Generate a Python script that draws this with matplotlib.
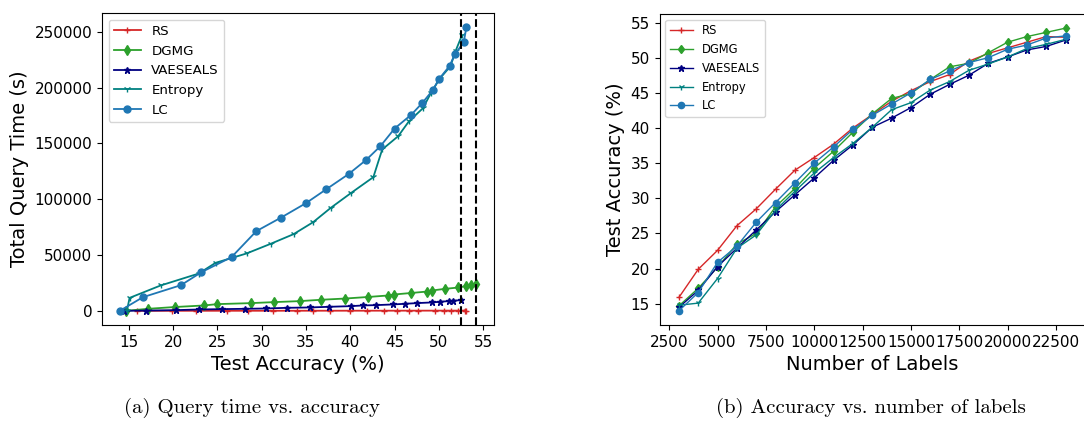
import matplotlib
matplotlib.use("Agg")
import matplotlib.pyplot as plt

# number of labelled samples per round
labels = [3000, 4000, 5000, 6000, 7000, 8000, 9000, 10000, 11000, 12000, 13000,
          14000, 15000, 16000, 17000, 18000, 19000, 20000, 21000, 22000, 23000]

# test accuracy (%) per method
acc_rs = [15.9, 19.9, 22.6, 26.1, 28.5, 31.3, 34.0, 35.8, 37.7, 40.0, 41.9,
          43.8, 45.3, 46.6, 47.6, 49.5, 50.6, 51.4, 52.2, 53.0, 52.9]
acc_dgmg = [14.7, 17.2, 20.2, 23.5, 25.0, 28.8, 31.4, 34.3, 36.7, 39.4, 42.0,
            44.2, 44.9, 46.9, 48.7, 49.2, 50.7, 52.2, 53.0, 53.6, 54.2]
acc_vae = [14.5, 16.9, 20.3, 22.9, 25.5, 28.1, 30.5, 32.9, 35.4, 37.6, 40.1,
           41.4, 42.9, 44.8, 46.2, 47.5, 49.2, 50.1, 51.1, 51.6, 52.5]
acc_ent = [14.8, 15.1, 18.6, 22.9, 24.8, 28.3, 31.0, 33.6, 35.8, 37.8, 40.1,
           42.6, 43.6, 45.4, 46.6, 48.2, 49.1, 50.1, 51.3, 51.9, 52.6]
acc_lc = [14.0, 16.6, 20.9, 23.2, 26.6, 29.4, 32.2, 35.0, 37.3, 39.8, 41.8,
          43.4, 45.0, 46.9, 48.1, 49.3, 50.0, 51.2, 51.8, 52.8, 53.1]

# cumulative query time (s) per method
time_rs = [0, 10, 20, 30, 40, 50, 60, 70, 80, 90, 100,
           110, 120, 130, 140, 150, 160, 170, 180, 190, 200]
time_dgmg = [0, 1800, 3400, 4800, 6000, 6900, 7800, 8700, 9900, 11000, 12400,
             13700, 14600, 16000, 17300, 18200, 19700, 20900, 22100, 23000, 24200]
time_vae = [0, 200, 600, 1200, 1500, 1800, 2100, 2700, 3000, 3600, 4200,
            4800, 5100, 5700, 6300, 6900, 7500, 8100, 8700, 9000, 9600]
time_ent = [0, 11600, 22700, 33400, 43000, 51400, 60000, 68700, 79400, 92300, 105700,
            119800, 144600, 156500, 169700, 181600, 195300, 208200, 219200, 233300, 247000]
time_lc = [0, 12200, 23000, 34600, 48100, 71400, 83600, 96500, 109000, 122500, 135300,
           147600, 163400, 175900, 186100, 197700, 207600, 219500, 230000, 240700, 254200]

# dashed reference accuracies
ref_acc = [52.5, 54.2]

acc_ticks = [15, 20, 25, 30, 35, 40, 45, 50, 55]
label_ticks = [2500, 5000, 7500, 10000, 12500, 15000, 17500, 20000, 22500]

series = [
    ("RS", acc_rs, time_rs, "#d62728", "+", 5),
    ("DGMG", acc_dgmg, time_dgmg, "#2ca02c", "d", 5),
    ("VAESEALS", acc_vae, time_vae, "navy", "*", 5),
    ("Entropy", acc_ent, time_ent, "teal", "1", 5),
    ("LC", acc_lc, time_lc, "#1f77b4", "o", 5),
]

fig = plt.figure(figsize=(10.84, 4.24), dpi=100)
ax1 = fig.add_axes([0.0941, 0.2335, 0.3616, 0.7358])
ax2 = fig.add_axes([0.6084, 0.2335, 0.3925, 0.7335])

# (a) query time vs accuracy
for name, acc, t, color, marker, ms in series:
    ax1.plot(acc, t, color=color, marker=marker, markersize=ms, linewidth=1.3,
             label=name)
for a in ref_acc:
    ax1.axvline(a, color="black", linestyle="--", linewidth=1.5)
ax1.set_xticks(acc_ticks)
ax1.set_xlabel("Test Accuracy (%)", fontsize=14)
ax1.set_ylabel("Total Query Time (s)", fontsize=14)
ax1.tick_params(labelsize=11)
ax1.legend(loc="upper left", fontsize=9.6)

# (b) accuracy vs number of labels
for name, acc, t, color, marker, ms in series:
    ax2.plot(labels, acc, color=color, marker=marker, markersize=ms - 0.5,
             linewidth=1.0, label=name)
ax2.set_xlabel("Number of Labels", fontsize=14)
ax2.set_ylabel("Test Accuracy (%)", fontsize=14)
ax2.set_xticks(label_ticks)
ax2.tick_params(labelsize=11)
ax2.legend(loc="upper left", fontsize=8.3)

fig.text(0.2325, 0.025, "(a) Query time vs. accuracy", ha="center",
         family="cmr10", fontsize=15)
fig.text(0.803, 0.025, "(b) Accuracy vs. number of labels", ha="center",
         family="cmr10", fontsize=15)

fig.savefig("out.png", dpi=100)
